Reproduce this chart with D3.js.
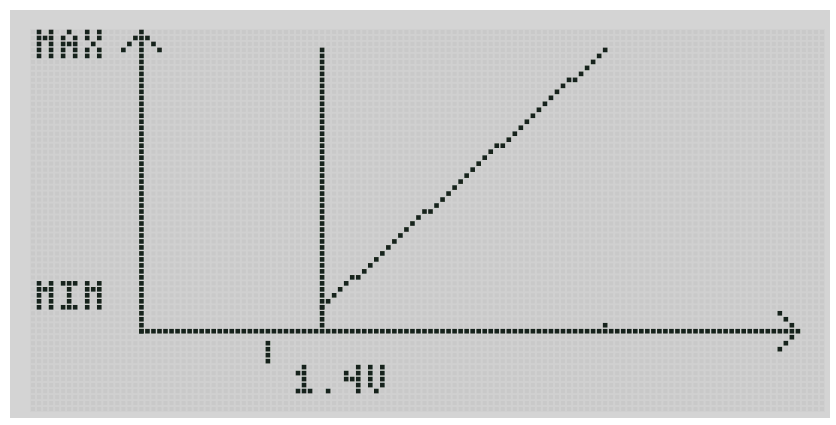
<!DOCTYPE html>
<html>
<head>
<meta charset="utf-8">
<script src="https://cdn.jsdelivr.net/npm/d3@7"></script>
<style>
  html, body { margin: 0; padding: 0; background: #ffffff; }
  svg { display: block; }
</style>
</head>
<body>
<svg id="lcd" width="836" height="425"></svg>
<script>
// ---- Display matrix -------------------------------------------------------
const COLS = 132, ROWS = 64;          // pixel matrix of the LCD panel
const ORIGIN_COL = 18, ORIGIN_ROW = 50; // where the two axes meet

// ---- Data (chart units: x = columns right of the y axis, y = rows above the x axis)
const curveStartX = 30;                 // column where the output begins (1.4V)
const curveLevels = [4, 5, 6, 7, 8, 9, 9, 10, 11, 12, 13, 14, 15, 16, 17, 18, 19, 20, 20,
                     21, 22, 23, 24, 25, 26, 27, 28, 29, 30, 31, 31, 32, 33, 34, 35, 36, 37,
                     38, 39, 40, 41, 42, 42, 43, 44, 45, 46, 47];
const thresholdX = 30;                  // vertical marker at 1.4V
const thresholdTop = 47;
const xAxisEnd = 109;                   // arrow tip of the x axis
const yAxisTop = 50;                    // arrow tip of the y axis
const tickX = 21, tickLevels = [-2, -3, -4, -5];
const endMarkX = 77, endMarkLevel = 1;

const yLabels = ["MAX", "MIM"];
const yLabelTops = [50, 8];
const yLabelX = -17;
const xLabels = ["1.4V"];
const xLabelX = [26];
const xLabelTop = -6;

// 3x5 dot font used by the panel
const FONT = {
  "M": ["X.X", "XXX", "X.X", "X.X", "X.X"],
  "A": [".X.", "X.X", "XXX", "X.X", "X.X"],
  "X": ["X.X", "X.X", ".X.", "X.X", "X.X"],
  "I": ["XXX", ".X.", ".X.", ".X.", "XXX"],
  "1": [".X.", "XX.", ".X.", ".X.", "XXX"],
  ".": ["...", "...", "...", "...", ".X."],
  "4": ["..X", "X.X", "XXX", "..X", "..X"],
  "V": ["X.X", "X.X", "X.X", "X.X", ".X."]
};

// ---- Layout ---------------------------------------------------------------
const svg = d3.select("#lcd");
const panel = { x0: 30, x1: 825, y0: 29, y1: 412 };
const dot = 4;        // unlit cell size
const litDot = 4.6;   // lit cells bleed slightly
const ink = "#16241a";

// scales from chart units to the centre of an LCD pixel
const xs = d3.scaleLinear()
  .domain([-ORIGIN_COL - 0.5, COLS - ORIGIN_COL - 0.5])
  .range([panel.x0, panel.x1]);
const ys = d3.scaleLinear()
  .domain([ORIGIN_ROW + 0.5, ORIGIN_ROW - ROWS + 0.5])
  .range([panel.y0, panel.y1]);

const defs = svg.append("defs");
defs.append("filter").attr("id", "bleed")
  .attr("x", "-20%").attr("y", "-20%").attr("width", "140%").attr("height", "140%")
  .append("feGaussianBlur").attr("stdDeviation", 0.35);

// bezel and glass
svg.append("rect").attr("x", 10).attr("y", 10).attr("width", 820).attr("height", 408)
  .attr("fill", "#d4d4d4");
svg.append("rect").attr("x", panel.x0).attr("y", panel.y0)
  .attr("width", panel.x1 - panel.x0).attr("height", panel.y1 - panel.y0)
  .attr("fill", "#d0d0d0");

// unlit pixels
const grid = [];
for (let r = 0; r < ROWS; r++)
  for (let c = 0; c < COLS; c++) grid.push([c - ORIGIN_COL, ORIGIN_ROW - r]);
svg.append("g").attr("class", "unlit")
  .selectAll("rect").data(grid).join("rect")
  .attr("x", d => xs(d[0]) - dot / 2).attr("y", d => ys(d[1]) - dot / 2)
  .attr("width", dot).attr("height", dot).attr("fill", "#c9c9c9");

// ---- Lit pixels -----------------------------------------------------------
const lit = [];
const on = (x, y) => lit.push([x, y]);

// y axis with arrow head
d3.range(0, yAxisTop + 1).forEach(l => on(0, l));
[1, 2, 3].forEach(k => { on(-k, yAxisTop - k); on(k, yAxisTop - k); });
// x axis with arrow head
d3.range(0, xAxisEnd + 1).forEach(x => on(x, 0));
[1, 2, 3].forEach(k => { on(xAxisEnd - k, k); on(xAxisEnd - k, -k); });
// 1.4V threshold line
d3.range(1, thresholdTop + 1).forEach(l => on(thresholdX, l));
// tick and end marker
tickLevels.forEach(l => on(tickX, l));
on(endMarkX, endMarkLevel);
// output curve
curveLevels.forEach((l, i) => on(curveStartX + i, l));

const litLayer = svg.append("g").attr("class", "lit").attr("filter", "url(#bleed)");
litLayer.selectAll("rect").data(lit).join("rect")
  .attr("x", d => xs(d[0]) - litDot / 2).attr("y", d => ys(d[1]) - litDot / 2)
  .attr("width", litDot).attr("height", litDot).attr("fill", ink);

// ---- Text in the panel's dot font -----------------------------------------
function drawLabel(str, x, top) {
  const g = svg.append("g").attr("class", "label");
  const cells = [];
  [...str].forEach((ch, i) => {
    const rows = FONT[ch] || [];
    rows.forEach((row, r) => [...row].forEach((v, c) => {
      if (v === "X") cells.push([x + i * 4 + c, top - r]);
    }));
  });
  g.append("g").attr("filter", "url(#bleed)")
    .selectAll("rect").data(cells).join("rect")
    .attr("x", d => xs(d[0]) - litDot / 2).attr("y", d => ys(d[1]) - litDot / 2)
    .attr("width", litDot).attr("height", litDot).attr("fill", ink);
  // the string itself, laid over its dots
  g.append("text")
    .attr("x", xs(x) - dot / 2).attr("y", ys(top - 4) + dot / 2)
    .attr("textLength", xs(x + str.length * 4 - 2) - xs(x) + dot)
    .attr("lengthAdjust", "spacingAndGlyphs")
    .attr("font-family", "DejaVu Sans Mono").attr("font-size", 36)
    .attr("fill", "transparent").text(str);
}
yLabels.forEach((s, i) => drawLabel(s, yLabelX, yLabelTops[i]));
xLabels.forEach((s, i) => drawLabel(s, xLabelX[i], xLabelTop));
</script>
</body>
</html>
